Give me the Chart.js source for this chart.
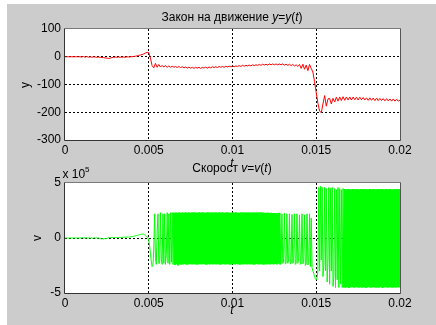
<!DOCTYPE html>
<html>
<head>
<meta charset="utf-8">
<script src="https://cdn.jsdelivr.net/npm/chart.js@4"></script>
<style>
  html, body { margin: 0; padding: 0; background: #fff; }
  #fig { position: absolute; left: 7px; top: 4px; width: 429px; height: 321px; background: #cccccc; }
  canvas { position: absolute; left: 0; }
  .lbl { position: absolute; font: 12px "Liberation Sans", Arial, sans-serif; color: #000;
         transform: translate(-50%, -50%); white-space: nowrap; }
  .rot { transform: translate(-50%, -50%) rotate(-90deg); }
</style>
</head>
<body>
<div id="fig"></div>
<canvas id="posChart" width="436" height="165" style="top:0"></canvas>
<canvas id="velChart" width="436" height="160" style="top:165px"></canvas>

<div class="lbl" style="left:232px;top:17px">Закон на движение <i>y</i>=<i>y</i>(<i>t</i>)</div>
<div class="lbl" style="left:232px;top:168px">Скорост <i>v</i>=<i>v</i>(<i>t</i>)</div>
<div class="lbl" style="left:232px;top:163px"><i>t</i></div>
<div class="lbl" style="left:232px;top:310px"><i>t</i></div>
<div class="lbl rot" style="left:25px;top:85px">y</div>
<div class="lbl rot" style="left:37px;top:238px">v</div>
<div class="lbl" style="left:76px;top:173px">x 10<sup style="font-size:8px;vertical-align:6px">5</sup></div>

<script>
// time step of the sampled traces
const dtPos = 0.0001;
const dtVel = 0.00005;

const xTicks = [0, 0.005, 0.01, 0.015, 0.02];
const posTicks = [-300, -200, -100, 0, 100];
const velTicks = [-5, 0, 5];   // x 10^5

// y(t), one value per 0.0001
const posValues = [
  0, 0, 0, 0, 0, 0, 0, 0, 0, 0,
  -1, 1, -2, 1, -2, 0, -2, 0, -1, -2,
  -1, -2, -3, -3, -4, -5, -6, -5, -3, -2,
  -1, -2, -1, -2, -1, -1, -2, 0, -1, 0,
  0, 1, 2, 3, 5, 6, 8, 10, 13, 16,
  15, -5, -32, -40, -24, -38, -28, -37, -31, -37,
  -32, -38, -33, -38, -34, -38, -35, -39, -35, -39,
  -36, -40, -37, -41, -37, -41, -38, -42, -38, -41,
  -38, -42, -38, -41, -37, -41, -37, -40, -36, -39,
  -36, -39, -35, -38, -35, -38, -34, -37, -34, -36,
  -33, -36, -33, -35, -32, -35, -31, -34, -31, -33,
  -30, -33, -29, -32, -29, -31, -28, -31, -27, -30,
  -27, -30, -26, -29, -26, -29, -26, -29, -26, -29,
  -26, -30, -27, -31, -27, -32, -28, -33, -29, -35,
  -28, -42, -27, -45, -30, -50, -28, -42, -55, -90,
  -130, -168, -195, -202, -170, -140, -178, -152, -150, -170,
  -150, -163, -146, -160, -145, -158, -144, -157, -145, -156,
  -145, -156, -145, -155, -146, -156, -146, -155, -147, -156,
  -148, -157, -148, -157, -149, -158, -149, -158, -150, -158,
  -151, -159, -151, -159, -152, -160, -152, -160, -153, -160, -156
];

// v(t) in units of 10^5, one value per 0.00005
const velValues = [
  // 0
  0, 0, 0, 0, 0, 0, 0, 0, 0, 0, 0, 0, 0, 0, 0, 0, 0, 0, 0, 0,
  // 0.001
  0, 0.03, -0.03, 0.03, -0.03, 0, 0.03, -0.03, 0, 0.03, -0.03, 0, 0.03, -0.03, 0, 0.03, -0.03, 0, 0.03, -0.03,
  // 0.002
  0, -0.05, -0.08, -0.05, -0.1, -0.06, -0.1, -0.05, -0.08, -0.03, -0.05, 0, 0.03, 0.05, 0.02, 0.06, 0.03, 0.05, 0.02, 0.04,
  // 0.003
  0.02, 0.05, 0.02, 0.05, 0.03, 0.06, 0.03, 0.06, 0.04, 0.07, 0.05, 0.08, 0.06, 0.09, 0.07, 0.1, 0.08, 0.11, 0.1, 0.12,
  // 0.004
  0.12, 0.14, 0.16, 0.18, 0.2, 0.21, 0.23, 0.25, 0.28, 0.3, 0.32, 0.34, 0.35, 0.36, 0.34, 0.3, 0.25, 0.18, 0.1, 0.02,
  // 0.005
  -0.2, -0.7, -1.4, -2.1, -2.6, -2.5, -1.0, 2.2, -1.8, -2.4, 0.5, 2.2, -2.3, -2.3, 2.3, -2.0, -2.4, 2.2, -2.3, 2.2,
  // 0.006
  -2.4, -1.5, 2.3, -2.3, 2.2, -2.4, 2.3, -2.2, 2.3, -2.4, 2.3, -2.45, 2.32, -2.4, 2.3, -2.5, 2.34, -2.38, 2.3, -2.42,
  // 0.007
  2.33, -2.4, 2.3, -2.38, 2.35, -2.42, 2.31, -2.4, 2.34, -2.36, 2.3, -2.41, 2.33, -2.4, 2.35, -2.38, 2.32, -2.42, 2.3, -2.4,
  // 0.008
  2.34, -2.39, 2.31, -2.41, 2.35, -2.37, 2.32, -2.4, 2.3, -2.42, 2.34, -2.38, 2.33, -2.41, 2.31, -2.39, 2.35, -2.4, 2.32, -2.38,
  // 0.009
  2.33, -2.4, 2.3, -2.38, 2.35, -2.42, 2.31, -2.4, 2.34, -2.36, 2.3, -2.41, 2.33, -2.4, 2.35, -2.38, 2.32, -2.42, 2.3, -2.4,
  // 0.010
  2.34, -2.39, 2.31, -2.41, 2.35, -2.37, 2.32, -2.4, 2.3, -2.42, 2.34, -2.38, 2.33, -2.41, 2.31, -2.39, 2.35, -2.4, 2.32, -2.38,
  // 0.011
  2.33, -2.4, 2.3, -2.38, 2.35, -2.42, 2.31, -2.4, 2.34, -2.36, 2.3, -2.41, 2.33, -2.4, 2.35, -2.38, 2.32, -2.42, 2.3, -2.4,
  // 0.012
  2.3, -2.4, 2.32, -2.38, 2.28, -2.41, 2.3, -2.37, 2.26, -2.4, 2.28, -2.36, 2.25, -2.4, 2.27, -2.35,
  // 0.0128
  2.3, -2.4, -2.3, 2.2, -2.3, -2.2, 2.25, -2.35, -2.3, 2.2, -2.3, -2.0, 2.2, -2.35, -2.3, 2.15, -2.3, -2.2,
  2.2, -2.4, -2.3, 2.2, -2.3, -1.8, 2.1, -2.4, -2.3, 2.2, -2.35, -2.2, 2.1, -2.5, -2.4, 2.2, -2.45, -2.3,
  // 0.0146
  2.2, -2.6, 1.8, -2.7, -3.0, -3.2, -3.5, -3.7, -3.8, -3.6, -3.0, 4.6, -3.0, 4.7, -2.0, 4.6, -3.5, -2.5, 4.6, -3.0,
  4.5, -4.0, -2.0, 4.6, -4.2, 4.5, -3.0, 4.6, -4.4, -3.5, 4.5, -4.5, 4.4, -3.8, 4.6, -4.5, 4.5, -4.2, 4.4, -4.5, 4.5,
  // 0.01665
  -4.5, 4.45, -4.52, 4.42, -4.48, 4.46, -4.55, 4.44, -4.5, 4.43, -4.47, 4.45, -4.53, 4.42, -4.5, 4.46, -4.49, 4.44, -4.52, 4.43,
  -4.5, 4.45, -4.52, 4.42, -4.48, 4.46, -4.55, 4.44, -4.5, 4.43, -4.47, 4.45, -4.53, 4.42, -4.5, 4.46, -4.49, 4.44, -4.52, 4.43,
  -4.5, 4.45, -4.52, 4.42, -4.48, 4.46, -4.55, 4.44, -4.5, 4.43, -4.47, 4.45, -4.53, 4.42, -4.5, 4.46, -4.49, 4.44, -4.52, 4.43,
  -4.5, 4.45, -4.52, 4.42, -4.48, 4.46, -4.5, 4.44
];

// time spans where the velocity trace is so dense it prints as a solid block
const velDenseSpans = [[0.0065, 0.0128], [0.01665, 0.0201]];

const font = { family: '"Liberation Sans", Arial, sans-serif', size: 12 };

// white plot area + axes box, MATLAB style
const boxPlugin = {
  id: 'box',
  beforeDraw(chart) {
    const a = chart.chartArea, c = chart.ctx;
    c.save();
    c.fillStyle = '#fff';
    c.fillRect(a.left, a.top, a.right - a.left, a.bottom - a.top);
    c.restore();
  },
  afterDatasetsDraw(chart) {
    const a = chart.chartArea, c = chart.ctx;
    const l = Math.round(a.left) - 0.5, r = Math.round(a.right) + 0.5;
    const t = Math.round(a.top) - 0.5, b = Math.round(a.bottom) + 0.5;
    c.save();
    c.lineWidth = 1;
    c.strokeStyle = '#7a7a7a';
    c.beginPath(); c.moveTo(l, t); c.lineTo(r, t); c.stroke();
    c.strokeStyle = '#555';
    c.beginPath(); c.moveTo(r, t); c.lineTo(r, b); c.stroke();
    c.strokeStyle = '#333';
    c.beginPath(); c.moveTo(l, t); c.lineTo(l, b); c.lineTo(r, b); c.stroke();
    c.restore();
  }
};

function makeChart(id, values, dt, color, denseSpans, yTicks, pad, xHeight) {
  const pts = values.map((v, i) => ({ x: i * dt, y: v }));
  const yMin = yTicks[0], yMax = yTicks[yTicks.length - 1];
  const edgeGrid = (lo, hi) => ctx =>
    (ctx.tick && (Math.abs(ctx.tick.value - lo) < 1e-9 || Math.abs(ctx.tick.value - hi) < 1e-9)) ? 'rgba(0,0,0,0)' : '#000';
  const inDense = t => denseSpans.some(([a, b]) => t >= a && t <= b);
  return new Chart(document.getElementById(id), {
    type: 'line',
    data: {
      datasets: [{
        data: pts,
        borderColor: color,
        borderWidth: 1,
        // solid "dash": keeps Chart.js off its per-pixel fast path
        borderDash: [100000, 0],
        borderJoinStyle: 'bevel',
        pointRadius: 0,
        tension: 0,
        fill: false,
        segment: {
          borderWidth: ctx => inDense(ctx.p0.parsed.x) ? 2.2 : 1
        }
      }]
    },
    options: {
      responsive: false,
      animation: false,
      events: [],
      layout: { padding: pad },
      plugins: { legend: { display: false }, tooltip: { enabled: false } },
      scales: {
        x: {
          type: 'linear',
          min: 0, max: 0.02,
          afterBuildTicks: s => { s.ticks = xTicks.map(v => ({ value: v })); },
          afterFit: s => { s.height = xHeight; },
          ticks: { color: '#000', font: font, padding: 3, maxRotation: 0, callback: v => String(v) },
          grid: { color: edgeGrid(0, 0.02), drawTicks: false, tickLength: 0 },
          border: { display: false, dash: [2, 2] }
        },
        y: {
          type: 'linear',
          min: yMin, max: yMax,
          afterBuildTicks: s => { s.ticks = yTicks.map(v => ({ value: v })); },
          afterFit: s => { s.width = 40; },
          ticks: { color: '#000', font: font, padding: 4, callback: v => String(v) },
          grid: { color: edgeGrid(yMin, yMax), drawTicks: false, tickLength: 0 },
          border: { display: false, dash: [2, 2] }
        }
      }
    },
    plugins: [boxPlugin]
  });
}

makeChart('posChart', posValues, dtPos, '#ff0000', [], posTicks,
  { left: 25, right: 36, top: 29, bottom: 0 }, 25);
makeChart('velChart', velValues, dtVel, '#00ff00', velDenseSpans, velTicks,
  { left: 25, right: 36, top: 18, bottom: 0 }, 32);
</script>
</body>
</html>
